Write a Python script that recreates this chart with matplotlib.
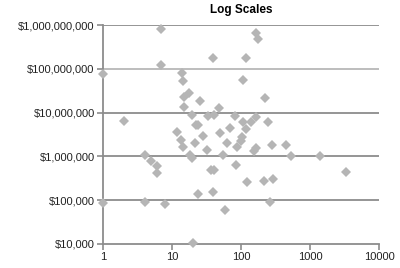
import matplotlib
matplotlib.use("Agg")
import matplotlib.pyplot as plt
from matplotlib.ticker import FuncFormatter, FixedLocator, NullLocator

# daten
x_vals = [1, 1, 2, 4, 4, 5, 6, 6, 7, 7, 8, 12, 13.5, 14.4, 14, 14.4, 15, 15,
          17.6, 19.5, 18, 19.5, 20, 22, 24, 21.5, 25.5, 24, 28, 32, 33, 37,
          40, 39, 40, 39, 48, 50, 55, 63, 59, 69, 82, 85, 88, 100, 107, 107,
          118, 118, 122, 140, 154, 165, 165, 165, 176, 215, 223, 246, 263,
          281, 291, 449, 530, 1396, 3324, 103]
y_vals = [7.6e7, 8.6e4, 6.4e6, 1.08e6, 9.1e4, 7.9e5, 6.0e5, 4.2e5, 8.1e8,
          1.22e8, 8.2e4, 3.6e6, 2.4e6, 1.64e6, 8.0e7, 5.3e7, 2.3e7, 1.34e7,
          2.8e7, 8.8e6, 1.08e6, 9.2e5, 1.05e4, 5.2e6, 5.2e6, 2.0e6, 1.84e7,
          1.39e5, 2.9e6, 1.4e6, 8.4e6, 4.9e5, 4.9e5, 1.77e8, 8.8e6, 1.54e5,
          1.27e7, 3.5e6, 1.05e6, 2.0e6, 6.0e4, 4.4e6, 8.4e6, 6.4e5, 1.64e6,
          2.25e6, 6.1e6, 5.5e7, 4.2e6, 1.77e8, 2.6e5, 6.1e6, 1.33e6, 1.56e6,
          7.9e6, 6.6e8, 4.8e8, 2.7e5, 2.15e7, 6.1e6, 9.1e4, 1.8e6, 3.05e5,
          1.8e6, 1.02e6, 1.02e6, 4.4e5, 2.8e6]
x_ticks = [1, 10, 100, 1000, 10000]
y_ticks = [1e4, 1e5, 1e6, 1e7, 1e8, 1e9]
title = "Log Scales"

plt.rcParams['font.family'] = ['Liberation Sans', 'DejaVu Sans']

fig = plt.figure(figsize=(4, 2.68), dpi=100)
ax = fig.add_axes([0.2575, 0.0896, 0.69, 0.8171])

ax.set_xscale('log')
ax.set_yscale('log')
ax.set_xlim(1, 10000)
ax.set_ylim(1e4, 1e9)

# gitterlinien
for yv in y_ticks[1:]:
    col = '#b8b8b8' if yv == 1e8 else '#8c8c8c'
    ax.axhline(yv, color=col, lw=1.3, zorder=1)

ax.plot(x_vals, y_vals, 'D', color='#b5b5b5', markersize=5.5,
        markeredgewidth=0, zorder=3, clip_on=False)

ax.xaxis.set_major_locator(FixedLocator(x_ticks))
ax.xaxis.set_minor_locator(NullLocator())
ax.yaxis.set_major_locator(FixedLocator(y_ticks))
ax.yaxis.set_minor_locator(NullLocator())
ax.xaxis.set_major_formatter(FuncFormatter(lambda v, p: f"{v:.0f}"))
ax.yaxis.set_major_formatter(FuncFormatter(lambda v, p: f"${v:,.0f}"))

for s in ['top', 'right']:
    ax.spines[s].set_visible(False)
for s in ['left', 'bottom']:
    ax.spines[s].set_color('#8c8c8c')
    ax.spines[s].set_linewidth(1.3)

ax.tick_params(axis='both', colors='#8c8c8c', length=4, width=1.2,
               labelsize=8, labelcolor='#222222', pad=2)

ax.set_title(title, fontsize=8.5, fontweight='bold', pad=9)

fig.savefig("out.png", dpi=100)
